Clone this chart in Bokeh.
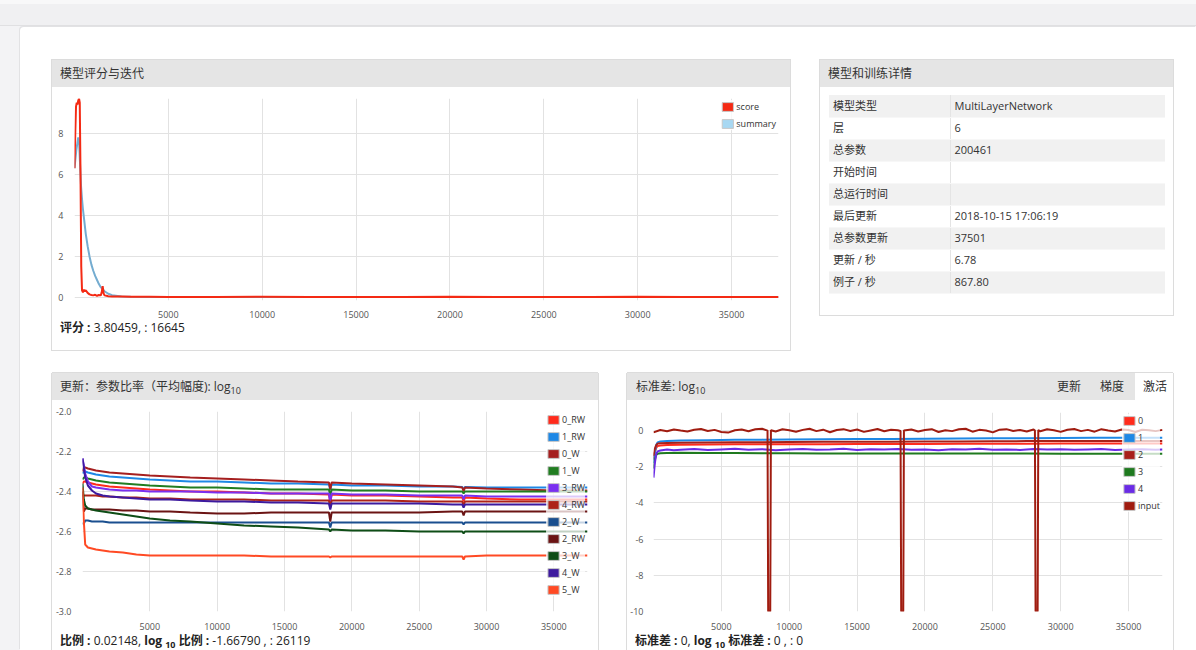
from bokeh.plotting import figure
from bokeh.models import Range1d, FixedTicker, PrintfTickFormatter, Legend, LegendItem, Div
from bokeh.layouts import row, column
from bokeh.embed import file_html
from bokeh.resources import INLINE

# ---------------- data ----------------
XTICKS = [5000, 10000, 15000, 20000, 25000, 30000, 35000]

# panel 1: model score vs iteration
SCORE_X = [0, 40, 80, 120, 160, 200, 240, 280, 320, 360, 400, 450, 500, 550, 600, 700, 800, 900, 1000, 1100,
           1200, 1300, 1400, 1450, 1500, 1550, 1600, 1700, 1800, 2000, 2500, 3000, 4000, 5000, 7500, 10000,
           12500, 15000, 17500, 20000, 22500, 25000, 27500, 30000, 32500, 35000, 37500]
SCORE_Y = [6.3, 8.0, 9.3, 9.5, 9.4, 9.6, 9.7, 9.5, 6.0, 1.5, 0.35, 0.25, 0.38, 0.3, 0.35, 0.22, 0.15, 0.12, 0.1, 0.13,
           0.08, 0.12, 0.1, 0.25, 0.55, 0.2, 0.1, 0.08, 0.06, 0.05, 0.04, 0.03, 0.03, 0.025, 0.02, 0.03,
           0.02, 0.025, 0.02, 0.03, 0.02, 0.025, 0.02, 0.03, 0.02, 0.025, 0.02]
SUMMARY_X = [0, 100, 200, 250, 300, 350, 400, 450, 500, 600, 700, 800, 900, 1000, 1100, 1200, 1300, 1400, 1500,
             1600, 1800, 2000, 2500, 3000, 4000, 10000, 20000, 30000, 37500]
SUMMARY_Y = [6.3, 7.2, 7.8, 7.5, 6.4, 5.4, 4.8, 4.3, 3.9, 3.1, 2.5, 2.0, 1.6, 1.3, 1.05, 0.85, 0.65, 0.5, 0.4,
             0.3, 0.18, 0.11, 0.05, 0.03, 0.02, 0.02, 0.02, 0.02, 0.02]
P1_YTICKS = [0, 2, 4, 6, 8]

# panel 2: model / training details
TABLE_KEYS = ["模型类型", "层", "总参数", "开始时间", "总运行时间", "最后更新", "总参数更新", "更新 / 秒", "例子 / 秒"]
TABLE_VALUES = ["MultiLayerNetwork", "6", "200461", "", "", "2018-10-15 17:06:19", "37501", "6.78", "867.80"]

# panel 3: update : parameter ratio (log10)
X3 = [0, 100, 200, 400, 700, 1000, 1500, 2000, 3000, 4000, 5000, 6500, 8000, 10000, 12000, 14000, 16000,
      18300, 18400, 18500, 20000, 22500, 25000, 27500, 28200, 28300, 28400, 30000, 32500, 35000, 37500]
R_0_RW = [-2.36, -2.35, -2.35, -2.355, -2.36, -2.365, -2.37, -2.375, -2.38, -2.385, -2.39, -2.395, -2.40, -2.40,
          -2.405, -2.41, -2.41, -2.415, -2.45, -2.415, -2.42, -2.42, -2.425, -2.43, -2.43, -2.45, -2.43, -2.435,
          -2.44, -2.44, -2.44]
R_1_RW = [-2.31, -2.30, -2.30, -2.305, -2.31, -2.315, -2.32, -2.325, -2.33, -2.335, -2.34, -2.345, -2.35, -2.35,
          -2.355, -2.36, -2.36, -2.365, -2.39, -2.365, -2.37, -2.37, -2.375, -2.375, -2.378, -2.39, -2.378, -2.38,
          -2.38, -2.38, -2.38]
R_0_W = [-2.30, -2.28, -2.28, -2.285, -2.29, -2.295, -2.30, -2.305, -2.31, -2.315, -2.32, -2.325, -2.33, -2.335,
         -2.34, -2.345, -2.35, -2.355, -2.39, -2.355, -2.36, -2.365, -2.37, -2.375, -2.38, -2.40, -2.38, -2.385,
         -2.39, -2.395, -2.395]
R_1_W = [-2.34, -2.33, -2.33, -2.335, -2.34, -2.345, -2.35, -2.355, -2.36, -2.365, -2.37, -2.375, -2.38, -2.38,
         -2.385, -2.39, -2.39, -2.39, -2.42, -2.39, -2.395, -2.395, -2.40, -2.40, -2.40, -2.41, -2.40, -2.40,
         -2.40, -2.40, -2.40]
R_3_RW = [-2.235, -2.27, -2.31, -2.35, -2.375, -2.38, -2.385, -2.39, -2.395, -2.395, -2.40, -2.40, -2.40, -2.405,
          -2.405, -2.41, -2.41, -2.41, -2.46, -2.41, -2.415, -2.415, -2.42, -2.42, -2.42, -2.44, -2.42, -2.425,
          -2.425, -2.425, -2.425]
R_4_RW = [-2.42, -2.42, -2.42, -2.42, -2.42, -2.42, -2.425, -2.425, -2.43, -2.43, -2.435, -2.435, -2.44, -2.44,
          -2.44, -2.445, -2.445, -2.445, -2.48, -2.445, -2.445, -2.445, -2.45, -2.45, -2.45, -2.47, -2.45, -2.45,
          -2.45, -2.45, -2.45]
R_2_W = [-2.56, -2.56, -2.545, -2.545, -2.55, -2.55, -2.55, -2.555, -2.555, -2.555, -2.555, -2.555, -2.555, -2.555,
         -2.555, -2.555, -2.555, -2.555, -2.58, -2.555, -2.555, -2.555, -2.555, -2.555, -2.555, -2.565, -2.555,
         -2.555, -2.555, -2.555, -2.555]
R_2_RW = [-2.40, -2.50, -2.485, -2.485, -2.49, -2.49, -2.49, -2.49, -2.495, -2.495, -2.50, -2.50, -2.505, -2.51,
          -2.51, -2.505, -2.505, -2.505, -2.55, -2.505, -2.505, -2.505, -2.505, -2.50, -2.50, -2.52, -2.50, -2.50,
          -2.50, -2.50, -2.50]
R_3_W = [-2.36, -2.44, -2.47, -2.485, -2.49, -2.495, -2.50, -2.505, -2.515, -2.525, -2.535, -2.545, -2.55, -2.56,
         -2.57, -2.575, -2.58, -2.59, -2.60, -2.59, -2.595, -2.595, -2.60, -2.60, -2.60, -2.61, -2.60, -2.60,
         -2.60, -2.60, -2.60]
R_4_W = [-2.235, -2.28, -2.33, -2.37, -2.395, -2.41, -2.42, -2.425, -2.43, -2.435, -2.44, -2.44, -2.445, -2.45,
         -2.45, -2.455, -2.455, -2.46, -2.49, -2.46, -2.46, -2.46, -2.46, -2.465, -2.465, -2.48, -2.465, -2.465,
         -2.465, -2.465, -2.465]
R_5_W = [-2.38, -2.55, -2.665, -2.68, -2.685, -2.69, -2.695, -2.70, -2.705, -2.715, -2.72, -2.72, -2.72, -2.72,
         -2.72, -2.725, -2.725, -2.725, -2.73, -2.725, -2.725, -2.725, -2.725, -2.725, -2.725, -2.74, -2.725,
         -2.72, -2.72, -2.72, -2.72]
P3_LABELS = ["0_RW", "1_RW", "0_W", "1_W", "3_RW", "4_RW", "2_W", "2_RW", "3_W", "4_W", "5_W"]
P3_SERIES = [R_0_RW, R_1_RW, R_0_W, R_1_W, R_3_RW, R_4_RW, R_2_W, R_2_RW, R_3_W, R_4_W, R_5_W]
P3_COLORS = ["#ff2b1c", "#1e88e5", "#a51f1f", "#217d21", "#7a2ff0", "#ad2218", "#1a4f8f", "#6b1414",
             "#0e4d16", "#3d1a9e", "#ff4a24"]
P3_YTICKS = [-3.0, -2.8, -2.6, -2.4, -2.2, -2.0]

# panel 4: standard deviation (log10), activations
ACT_X = [0, 100, 200, 300, 500, 1000, 2000, 4000, 6000, 8000, 10000, 12500, 15000, 17500, 20000, 22500,
         25000, 27500, 30000, 32500, 35000, 37500]
A_0 = [-1.6, -1.2, -0.95, -0.85, -0.82, -0.8, -0.78, -0.77, -0.76, -0.76, -0.75, -0.75, -0.74, -0.74, -0.74,
       -0.73, -0.73, -0.73, -0.72, -0.72, -0.72, -0.72]
A_1 = [-1.8, -1.2, -0.8, -0.65, -0.6, -0.57, -0.55, -0.53, -0.51, -0.5, -0.49, -0.48, -0.47, -0.46, -0.45,
       -0.44, -0.43, -0.42, -0.41, -0.4, -0.4, -0.39]
A_2 = [-1.4, -1.0, -0.8, -0.72, -0.7, -0.68, -0.67, -0.66, -0.65, -0.64, -0.63, -0.62, -0.62, -0.61, -0.6,
       -0.6, -0.59, -0.58, -0.58, -0.57, -0.57, -0.57]
A_3 = [-2.1, -1.6, -1.35, -1.28, -1.25, -1.24, -1.23, -1.24, -1.24, -1.25, -1.25, -1.26, -1.26, -1.26, -1.27,
       -1.27, -1.27, -1.27, -1.28, -1.28, -1.28, -1.28]
A4_X = [0, 100, 200, 300, 500, 1000, 1500] + list(range(2000, 37001, 1000)) + [37500]
A_4 = [-2.6, -1.8, -1.3, -1.15, -1.1, -1.05, -1.08,
       -1.06, -1.02, -1.07, -1.04, -1.01, -1.06, -1.03, -1.08, -1.04, -1.02, -1.06, -1.05, -1.01, -1.07,
       -1.03, -1.05, -1.02, -1.06, -1.04, -1.08, -1.03, -1.05, -1.01, -1.06, -1.04, -1.07, -1.02, -1.05,
       -1.03, -1.06, -1.04, -1.02, -1.07, -1.05, -1.03, -1.06, -1.04]
INPUT_X = (list(range(0, 8001, 500)) + [8400, 8450, 8600, 8650] + list(range(9000, 18001, 500))
           + [18200, 18250, 18400, 18450] + list(range(19000, 28001, 500)) + [28100, 28150, 28300, 28350]
           + list(range(28500, 37501, 500)))
INPUT_Y = [-0.1, 0.03, -0.04, 0.06, 0.0, -0.05, 0.05, 0.09, -0.02, 0.04, -0.08, -0.11, 0.02, 0.06, -0.04, 0.07, 0.1,
           0.0, -10, -10, 0.02,
           -0.05, 0.07, 0.02, -0.06, 0.04, 0.1, -0.03, 0.05, -0.09, 0.03, 0.08, -0.02, 0.06, -0.07, 0.01, 0.09,
           -0.04, 0.05, 0.02,
           -0.02, -10, -10, 0.0,
           0.06, -0.05, 0.03, 0.08, -0.08, 0.02, -0.03, 0.07, 0.1, -0.06, 0.04, 0.0, -0.1, 0.05, 0.08, -0.02,
           0.03, -0.05, 0.06,
           0.0, -10, -10, 0.03,
           -0.04, 0.07, 0.02, -0.07, 0.05, 0.09, -0.03, 0.04, -0.06, 0.08, 0.01, -0.05, 0.06, 0.03, -0.08, 0.05,
           0.02, -0.03, 0.04]
P4_LABELS = ["0", "1", "2", "3", "4", "input"]
P4_COLORS = ["#ff2b1c", "#1e88e5", "#a8201a", "#1f7a1f", "#6a2be6", "#a01c10"]
P4_YTICKS = [-10, -8, -6, -4, -2, 0]

# ---------------- styling helpers ----------------
FONT = "'Open Sans','Noto Sans CJK SC',sans-serif"
HEADER_BG = "#e5e5e5"


def style_fig(p, yticks, yfmt, ystand, xstand):
    p.outline_line_color = None
    p.background_fill_color = "#ffffff"
    p.border_fill_color = "#ffffff"
    for ax in (p.xaxis[0], p.yaxis[0]):
        ax.axis_line_color = None
        ax.major_tick_line_color = None
        ax.minor_tick_line_color = None
        ax.major_label_text_font = "Open Sans"
        ax.major_label_text_font_size = "9px"
        ax.major_label_text_color = "#555555"
    xt = FixedTicker(ticks=XTICKS)
    yt = FixedTicker(ticks=yticks)
    p.xaxis[0].ticker = xt
    p.yaxis[0].ticker = yt
    p.xgrid.ticker = xt
    p.ygrid.ticker = yt
    p.xaxis[0].formatter = PrintfTickFormatter(format="%d")
    p.yaxis[0].formatter = PrintfTickFormatter(format=yfmt)
    p.xaxis[0].major_label_standoff = xstand
    p.yaxis[0].major_label_standoff = ystand
    p.xgrid.grid_line_color = "#e2e2e2"
    p.ygrid.grid_line_color = "#e2e2e2"


def add_legend(p, labels, colors, series):
    # legend swatches: zero-size rects anchored on each series' last data point
    items = []
    for lab, c, (xs, ys) in zip(labels, colors, series):
        r = p.rect(x=xs[-1:], y=ys[-1:], width=0, height=0, fill_color=c, line_color="#c8c8c8", line_width=1)
        items.append(LegendItem(label=lab, renderers=[r]))
    leg = Legend(items=items, location="top_right", margin=2, padding=6, spacing=4,
                 label_height=12, glyph_height=11, glyph_width=14, label_standoff=2,
                 label_text_font="Open Sans", label_text_font_size="9px", label_text_color="#333333",
                 border_line_color=None, background_fill_color="#ffffff", background_fill_alpha=0.75)
    p.add_layout(leg)


def header_div(html, width):
    return Div(text=(f'<div style="width:{width}px;height:27px;line-height:27px;background:{HEADER_BG};'
                     f'padding-left:8px;box-sizing:border-box;font-family:{FONT};font-size:12px;'
                     f'color:#333;white-space:nowrap">{html}</div>'),
               width=width, height=27, margin=0)


def footer_div(html, width, height, pad_top):
    return Div(text=(f'<div style="padding-left:8px;padding-top:{pad_top}px;font-family:{FONT};'
                     f'font-size:12px;line-height:14px;color:#222;white-space:nowrap">{html}</div>'),
               width=width, height=height, margin=0)


# ---------------- panel 1 ----------------
p1 = figure(width=738, height=233, x_range=Range1d(0, 37500), y_range=Range1d(-0.15, 9.7),
            output_backend="svg", toolbar_location=None, min_border_left=22, min_border_right=12,
            min_border_top=11, min_border_bottom=16, margin=0)
style_fig(p1, P1_YTICKS, "%d", 5, 4)
p1.line(SUMMARY_X, SUMMARY_Y, line_color="#74acd0", line_width=2)
p1.line(SCORE_X, SCORE_Y, line_color="#f42a14", line_width=2)
add_legend(p1, ["score", "summary"], ["#f42a14", "#a8d8f2"],
           [(SCORE_X, SCORE_Y), (SUMMARY_X, SUMMARY_Y)])

panel1 = column(header_div("模型评分与迭代", 738), p1,
                footer_div("<b>评分 :</b> 3.80459, : 16645", 738, 30, 1),
                width=738, height=290, margin=(33, 0, 0, 32),
                styles={"box-shadow": "0 0 0 1px #dcdcdc", "background-color": "#ffffff"})

# ---------------- panel 2 ----------------
rows_html = ""
for i, (k, v) in enumerate(zip(TABLE_KEYS, TABLE_VALUES)):
    bg = "#f1f1f1" if i % 2 == 0 else "#ffffff"
    rows_html += (f'<tr style="background:{bg};height:22px">'
                  f'<td style="padding:0 4px;width:121px;box-sizing:border-box;border-right:1px solid #e4e4e4;'
                  f'border-bottom:1px solid #f7f7f7">{k}</td>'
                  f'<td style="padding:0 4px;border-bottom:1px solid #f7f7f7">{v}</td></tr>')
table_html = (f'<div style="width:353px;height:255px;font-family:{FONT};color:#333">'
              f'<div style="height:27px;line-height:27px;background:{HEADER_BG};padding-left:8px;'
              f'font-size:12px;white-space:nowrap">模型和训练详情</div>'
              f'<table style="margin:8px 0 0 9px;width:336px;border-collapse:collapse;font-size:11px;'
              f'line-height:14px;table-layout:fixed"><colgroup><col style="width:121px"><col></colgroup>'
              f'{rows_html}</table></div>')
panel2 = Div(text=table_html, width=353, height=255, margin=(33, 0, 0, 30),
             styles={"box-shadow": "0 0 0 1px #dcdcdc", "background-color": "#ffffff"})

# ---------------- panel 3 ----------------
p3 = figure(width=546, height=232, x_range=Range1d(0, 37500), y_range=Range1d(-3.0, -2.0),
            output_backend="svg", toolbar_location=None, min_border_left=29, min_border_right=11,
            min_border_top=11, min_border_bottom=17, margin=0)
style_fig(p3, P3_YTICKS, "%.1f", 5, 5)
for ys, c in zip(P3_SERIES, P3_COLORS):
    p3.line(X3, ys, line_color=c, line_width=2)
add_legend(p3, P3_LABELS, P3_COLORS, [(X3, ys) for ys in P3_SERIES])

side_shadow = "0 -1px 0 0 #dcdcdc, -1px 0 0 0 #dcdcdc, 1px 0 0 0 #dcdcdc"
panel3 = column(header_div('更新：参数比率（平均幅度): log<sub style="font-size:9px;line-height:0">10</sub>', 546),
                p3,
                footer_div('<b>比例 :</b> 0.02148, <b>log <sub style="font-size:9px;line-height:0">10</sub> 比例 :</b> -1.66790 , : 26119',
                           546, 18, 2),
                width=546, height=277, margin=(23, 0, 0, 32),
                styles={"box-shadow": side_shadow, "background-color": "#ffffff"})

# ---------------- panel 4 ----------------
p4 = figure(width=546, height=232, x_range=Range1d(0, 37500), y_range=Range1d(-10, 1.0),
            output_backend="svg", toolbar_location=None, min_border_left=25, min_border_right=11,
            min_border_top=12, min_border_bottom=16, margin=0)
style_fig(p4, P4_YTICKS, "%d", 4, 5)
P4_SERIES = [(ACT_X, A_0), (ACT_X, A_1), (ACT_X, A_2), (ACT_X, A_3), (A4_X, A_4), (INPUT_X, INPUT_Y)]
for (xs, ys), c in zip(P4_SERIES, P4_COLORS):
    p4.line(xs, ys, line_color=c, line_width=2)
add_legend(p4, P4_LABELS, P4_COLORS, P4_SERIES)

tab_html = (f'<div style="position:relative;width:546px;height:27px;background:{HEADER_BG};'
            f'font-family:{FONT};color:#333;font-size:12px;line-height:27px;white-space:nowrap">'
            f'<span style="position:absolute;left:9px;top:0">标准差: log<sub style="font-size:9px;line-height:0">10</sub></span>'
            f'<span style="position:absolute;left:430px;top:0">更新</span>'
            f'<span style="position:absolute;left:473px;top:0">梯度</span>'
            f'<div style="position:absolute;left:508px;top:0;width:38px;height:27px;background:#ffffff"></div>'
            f'<span style="position:absolute;left:516px;top:0">激活</span></div>')
h4 = Div(text=tab_html, width=546, height=27, margin=0)
panel4 = column(h4, p4,
                footer_div('<b>标准差 :</b> 0, <b>log <sub style="font-size:9px;line-height:0">10</sub> 标准差 :</b> 0 , : 0',
                           546, 18, 2),
                width=546, height=277, margin=(23, 0, 0, 29),
                styles={"box-shadow": side_shadow, "background-color": "#ffffff"})

# ---------------- page ----------------
top_row = row(panel1, panel2, margin=0)
bottom_row = row(panel3, panel4, margin=0)
card = column(top_row, bottom_row, width=1176, height=623, margin=(0, 0, 0, 20),
              styles={"background-color": "#ffffff", "border-top-left-radius": "4px",
                      "box-shadow": "-1px -1px 0 0 #e2e2e4"})
topbar = Div(text=('<div style="width:1196px;height:26px;background:#f0f0f2;border-bottom:1px solid #e0e0e2;'
                   'box-sizing:border-box;border-top:4px solid #f8f8f9"></div>'),
             width=1196, height=27, margin=0)
root = column(topbar, card, width=1196, height=650, margin=0,
              styles={"background-color": "#f3f3f5"})

open("out.html", "w").write(file_html(root, INLINE))
